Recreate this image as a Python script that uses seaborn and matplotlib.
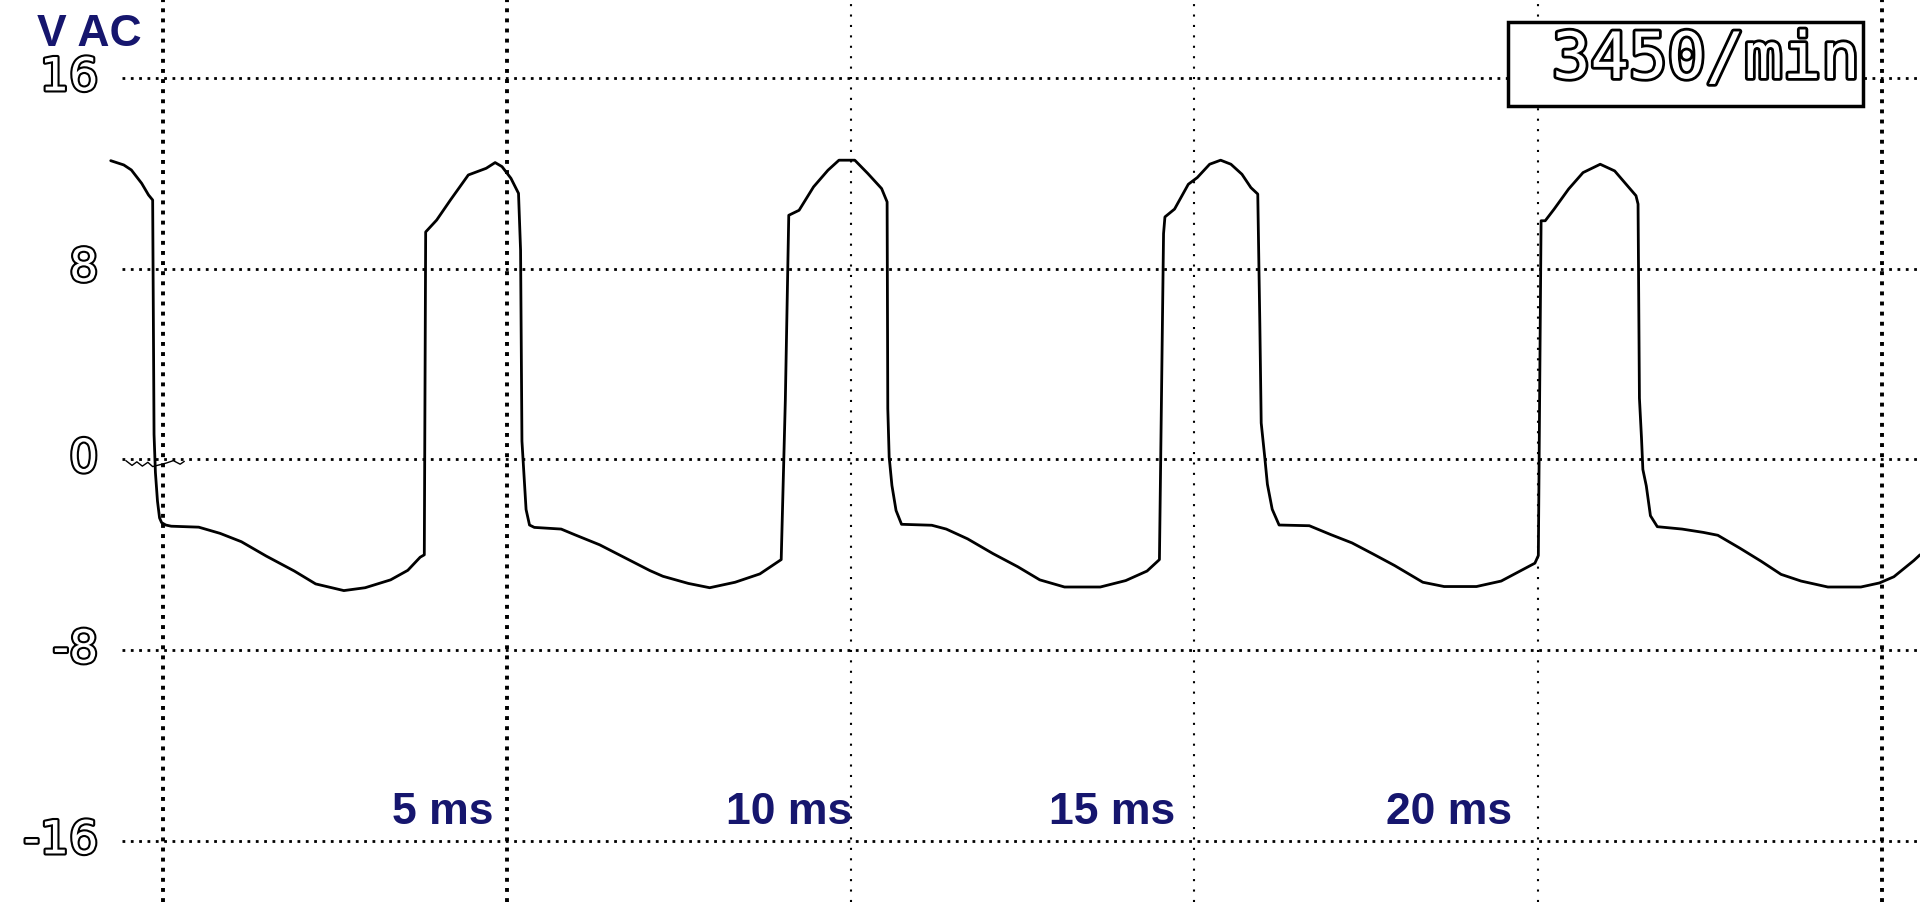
import matplotlib
matplotlib.use("Agg")
import matplotlib.pyplot as plt
import matplotlib.patheffects as pe
from matplotlib import font_manager
from matplotlib.patches import Rectangle
import pandas as pd
import seaborn as sns

# scope trace, time in ms, voltage in V
time_ms = [
    -0.76, -0.57, -0.46, -0.31, -0.21, -0.15,
    -0.13, -0.11, -0.08, -0.05, -0.02, 0.04, 0.12,
    0.52, 0.83, 1.14, 1.50, 1.91, 2.22, 2.63, 2.94, 3.31, 3.56, 3.74,
    3.80, 3.82, 3.98, 4.18, 4.44, 4.70, 4.83, 4.93, 5.06, 5.17,
    5.20, 5.22, 5.25, 5.28, 5.33, 5.40,
    5.79, 5.99, 6.35, 6.77, 7.08, 7.27, 7.64, 7.95, 8.32, 8.68, 8.99,
    9.05, 9.10, 9.25, 9.46, 9.67, 9.83, 10.06, 10.25, 10.45, 10.53,
    10.54, 10.56, 10.60, 10.66, 10.74,
    11.18, 11.39, 11.70, 12.07, 12.43, 12.75, 13.11, 13.63, 14.00, 14.31, 14.49,
    14.55, 14.57, 14.71, 14.91, 15.04, 15.22, 15.38, 15.53, 15.69, 15.82, 15.92,
    15.95, 15.97, 16.02, 16.06, 16.13, 16.23,
    16.67, 16.98, 17.29, 17.60, 17.91, 18.32, 18.63, 19.10, 19.46, 19.72, 19.95,
    20.00, 20.04, 20.10, 20.23, 20.44, 20.65, 20.90, 21.11, 21.32, 21.42,
    21.45, 21.47, 21.50, 21.52, 21.57, 21.63, 21.73,
    22.09, 22.40, 22.61, 22.93, 23.24, 23.53, 23.82, 24.21, 24.69, 24.96, 25.17, 25.46, 25.55,
]
volts = [
    12.53, 12.35, 12.14, 11.58, 11.09, 10.88,
    1.05, -0.55, -1.75, -2.45, -2.65, -2.75, -2.80,
    -2.84, -3.10, -3.45, -4.05, -4.68, -5.22, -5.50, -5.38, -5.05, -4.65, -4.10,
    -4.00, 9.54, 10.04, 10.88, 11.93, 12.21, 12.45, 12.28, 11.79, 11.16,
    8.77, 0.77, -0.70, -2.10, -2.75, -2.85,
    -2.92, -3.16, -3.58, -4.20, -4.66, -4.90, -5.20, -5.38, -5.15, -4.80, -4.20,
    2.48, 10.24, 10.45, 11.43, 12.13, 12.55, 12.55, 11.99, 11.36, 10.80,
    2.13, 0.10, -1.09, -2.14, -2.72,
    -2.76, -2.92, -3.33, -3.95, -4.50, -5.05, -5.35, -5.35, -5.08, -4.68, -4.20,
    9.47, 10.17, 10.50, 11.54, 11.82, 12.38, 12.55, 12.38, 11.96, 11.40, 11.13,
    5.70, 1.53, 0.14, -1.04, -2.09, -2.75,
    -2.78, -3.15, -3.50, -3.97, -4.45, -5.15, -5.33, -5.33, -5.10, -4.70, -4.35,
    -4.03, 10.01, 10.01, 10.50, 11.34, 12.03, 12.38, 12.10, 11.40, 11.06,
    10.71, 2.57, 0.90, -0.42, -1.11, -2.36, -2.82,
    -2.92, -3.06, -3.18, -3.72, -4.27, -4.82, -5.10, -5.35, -5.35, -5.18, -4.92, -4.24, -4.00,
]

# small wiggle on the zero line at the start of the trace
noise_ms = [-0.54, -0.45, -0.38, -0.30, -0.22, -0.15, 0.05, 0.15, 0.25, 0.31]
noise_v = [-0.05, -0.25, -0.10, -0.28, -0.12, -0.30, -0.15, -0.05, -0.20, -0.08]

volt_grid = [16, 8, 0, -8, -16]
volt_labels = ["16", "8", "0", "-8", "-16"]
time_grid = [0, 5, 10, 15, 20, 25]
time_labels = ["5 ms", "10 ms", "15 ms", "20 ms"]
time_label_pos = [4.80, 10.03, 14.72, 19.62]
rpm_text = "3450/min"

NAVY = "#16166e"

sns.set_theme(style="white")
installed = {f.name for f in font_manager.fontManager.ttflist}
narrow = "Liberation Sans Narrow" if "Liberation Sans Narrow" in installed else "DejaVu Sans"
plt.rcParams["font.family"] = ["Liberation Sans", "DejaVu Sans"]

fig = plt.figure(figsize=(19.2, 9.03), dpi=100)
ax = fig.add_axes([0, 0, 1, 1])
ax.set_xlim(-2.37, 25.55)
ax.set_ylim(-18.56, 19.31)
ax.axis("off")

# dotted screen grid
ax.hlines(volt_grid, -0.6, 25.55, colors="black", lw=2.0,
          linestyles=[(0, (1, 2))], zorder=1)
for t in time_grid:
    heavy = t in (0, 5, 25)
    ax.axvline(t, color="black", lw=2.8 if heavy else 1.5,
               linestyle=(0, (1, 1.6)) if heavy else (0, (1, 4)), zorder=1)

df = pd.DataFrame({"ms": time_ms, "V": volts})
sns.lineplot(data=df, x="ms", y="V", sort=False, estimator=None,
             color="black", lw=2.0, ax=ax, zorder=3)
sns.lineplot(x=noise_ms, y=noise_v, sort=False, estimator=None,
             color="black", lw=1.0, ax=ax, zorder=3)

outline = [pe.withStroke(linewidth=3, foreground="black")]
for v, lab in zip(volt_grid, volt_labels):
    ax.text(-0.94, v, lab, ha="right", va="center", fontsize=33,
            family=narrow, color="white", path_effects=outline, zorder=4)

ax.text(-1.83, 17.4, "V AC", ha="left", va="baseline", fontsize=32,
        fontweight="bold", color=NAVY)
for x, lab in zip(time_label_pos, time_labels):
    ax.text(x, -15.25, lab, ha="right", va="baseline", fontsize=32,
            fontweight="bold", color=NAVY)

# rpm readout box
fig.patches.append(Rectangle((1508 / 1920, 1 - 107 / 903), 355 / 1920, 84 / 903,
                             transform=fig.transFigure, facecolor="white",
                             edgecolor="black", lw=2.5, zorder=5))
fig.text(1860 / 1920, 1 - 61 / 903, rpm_text, ha="right", va="center",
         fontsize=46, family="DejaVu Sans Mono", color="white",
         path_effects=[pe.withStroke(linewidth=4, foreground="black")], zorder=6)

fig.savefig("out.png", dpi=100)
